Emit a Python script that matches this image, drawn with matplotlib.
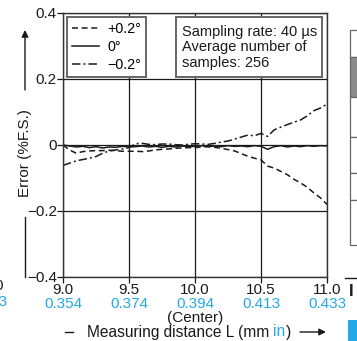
import numpy as np
import matplotlib.pyplot as plt
from matplotlib.patches import Rectangle
from matplotlib.lines import Line2D
import matplotlib.transforms as mtransforms

plt.rcParams['font.family'] = ['Liberation Sans', 'DejaVu Sans']

# measuring distance (mm)
dist = [9.00, 9.05, 9.10, 9.15, 9.20, 9.25, 9.30, 9.35, 9.40, 9.45,
        9.50, 9.55, 9.60, 9.65, 9.70, 9.75, 9.80, 9.85, 9.90, 9.95,
        10.00, 10.05, 10.10, 10.15, 10.20, 10.25, 10.30, 10.35, 10.40, 10.45,
        10.50, 10.55, 10.60, 10.65, 10.70, 10.75, 10.80, 10.85, 10.90, 10.95,
        11.00]

# error (%F.S.) per tilt angle
err_plus02 = [0.000, -0.015, -0.025, -0.020, -0.018, -0.017, -0.017, -0.016, -0.017, -0.019,
              -0.019, -0.019, -0.020, -0.018, -0.015, -0.013, -0.012, -0.010, -0.009, -0.008,
              -0.008, -0.006, -0.005, -0.007, -0.010, -0.014, -0.018, -0.026, -0.034, -0.040,
              -0.045, -0.064, -0.070, -0.080, -0.090, -0.104, -0.115, -0.128, -0.145, -0.160,
              -0.180]
err_zero = [0.000, -0.003, -0.006, -0.004, -0.008, -0.005, -0.009, -0.006, -0.007, -0.004,
            -0.006, -0.005, -0.003, -0.006, -0.004, -0.007, -0.004, -0.006, -0.003, -0.005,
            -0.004, -0.002, -0.005, -0.003, -0.005, -0.002, -0.004, -0.003, -0.005, -0.002,
            -0.004, -0.013, -0.005, -0.002, -0.006, -0.003, -0.005, -0.002, -0.004, -0.002,
            -0.003]
err_minus02 = [-0.062, -0.055, -0.048, -0.044, -0.040, -0.035, -0.025, -0.018, -0.015, -0.012,
               -0.008, 0.004, 0.005, 0.002, 0.001, 0.003, 0.003, 0.001, 0.000, 0.002,
               0.004, 0.003, 0.002, 0.005, 0.009, 0.012, 0.018, 0.024, 0.030, 0.028,
               0.035, 0.026, 0.046, 0.054, 0.062, 0.069, 0.076, 0.088, 0.104, 0.112,
               0.124]

x_ticks = [9.0, 9.5, 10.0, 10.5, 11.0]
x_labels = ['9.0', '9.5', '10.0', '10.5', '11.0']
inch_labels = ['0.354', '0.374', '0.394', '0.413', '0.433']
y_ticks = [-0.4, -0.2, 0.0, 0.2, 0.4]
y_labels = ['\u22120.4', '\u22120.2', '0', '0.2', '0.4']
series_names = ['+0.2\u00b0', '0\u00b0', '\u22120.2\u00b0']

BLUE = '#22a9e6'
INK = '#1a1a1a'
W, H = 357, 341

fig = plt.figure(figsize=(W / 100, H / 100), dpi=100)
ax = fig.add_axes([63 / W, (H - 277) / H, 264 / W, 264 / H])

l1, = ax.plot(dist, err_plus02, color=INK, lw=1.1, dashes=(3.9, 2.4))
l2, = ax.plot(dist, err_zero, color=INK, lw=1.1)
l3, = ax.plot(dist, err_minus02, color=INK, lw=1.1, dashes=(5.5, 2, 1.3, 2))

ax.set_xlim(9.0, 11.0)
ax.set_ylim(-0.4, 0.4)
ax.set_xticks(x_ticks)
ax.set_xticklabels(x_labels)
ax.set_yticks(y_ticks)
ax.set_yticklabels(y_labels)
ax.grid(True, color=INK, lw=0.9)
ax.set_axisbelow(True)
ax.tick_params(direction='out', length=4, width=0.9, color=INK,
               labelsize=11, pad=0.5, labelcolor=INK)
for s in ax.spines.values():
    s.set_color('#333333')
    s.set_linewidth(1.0)

# inch values under mm tick labels
trans = mtransforms.blended_transform_factory(ax.transData, ax.transAxes)
for xv, lab in zip(x_ticks, inch_labels):
    ax.text(xv, -0.103, lab, transform=trans, ha='center', va='center',
            color=BLUE, fontsize=11)
ax.text(10.0, -0.155, '(Center)', transform=trans, ha='center', va='center',
        color=INK, fontsize=11)

# legend
leg = ax.legend([l1, l2, l3], series_names, loc='upper left',
                bbox_to_anchor=(4 / 264, 260 / 264), borderaxespad=0,
                fontsize=10.3, handlelength=1.9, handletextpad=0.55,
                labelspacing=0.28, borderpad=0.35, fancybox=False,
                framealpha=1, edgecolor='#666666')
leg.get_frame().set_linewidth(1.4)
leg.set_zorder(5)

# condition box
box = Rectangle(((176 - 63) / 264, (277 - 77) / 264), 146 / 264, 60 / 264,
                transform=ax.transAxes, facecolor='white', edgecolor='#666666',
                lw=1.4, zorder=5)
ax.add_patch(box)
ax.text((182 - 63) / 264, (277 - 47.5) / 264,
        'Sampling rate: 40 \u00b5s\nAverage number of\nsamples: 256',
        transform=ax.transAxes, ha='left', va='center', fontsize=10.5,
        linespacing=1.17, color=INK, zorder=6)

# y label with arrow
fig.text(25 / W, (H - 153) / H, 'Error (%F.S.)', rotation=90,
         ha='center', va='center', fontsize=11, color=INK)
fig.add_artist(Line2D([25 / W, 25 / W], [(H - 217) / H, (H - 277) / H],
                      color=INK, lw=1.0))
ax.annotate('', xy=(25 / W, (H - 30) / H), xytext=(25 / W, (H - 90) / H),
            xycoords='figure fraction', textcoords='figure fraction',
            arrowprops=dict(arrowstyle='-|>', color=INK, lw=1.0,
                            mutation_scale=10, shrinkA=0, shrinkB=0))

# x label
yl = (H - 332) / H
fig.add_artist(Line2D([65 / W, 73 / W], [yl, yl], color=INK, lw=1.0))
t1 = fig.text(87 / W, yl, 'Measuring distance L (mm ', ha='left', va='center',
              fontsize=11.2, color=INK)
fig.canvas.draw()
r = fig.canvas.get_renderer()
x1 = t1.get_window_extent(r).x1
t2 = fig.text(x1 / W, yl, 'in', ha='left', va='center', fontsize=11.2, color=BLUE)
x2 = t2.get_window_extent(r).x1
fig.text(x2 / W, yl, ')', ha='left', va='center', fontsize=11.2, color=INK)
ax.annotate('', xy=(326 / W, yl), xytext=(300 / W, yl),
            xycoords='figure fraction', textcoords='figure fraction',
            arrowprops=dict(arrowstyle='-|>', color=INK, lw=1.0,
                            mutation_scale=10, shrinkA=0, shrinkB=0))

# cropped neighbours at the page edges
fig.text(4 / W, (H - 286) / H, '11.0', ha='right', va='center', fontsize=11, color=INK)
fig.text(7 / W, (H - 302) / H, '0.433', ha='right', va='center', fontsize=11, color=BLUE)

rows = [30, 57, 97, 137, 173, 200, 245]
for i in range(len(rows) - 1):
    fc = '#8c8c8c' if i == 1 else 'white'
    fig.add_artist(Rectangle((350 / W, (H - rows[i + 1]) / H), 10 / W,
                             (rows[i + 1] - rows[i]) / H, facecolor=fc,
                             edgecolor='#666666', lw=0.9))
fig.add_artist(Line2D([345 / W, 357 / W], [(H - 278) / H] * 2, color=INK, lw=1.0))
fig.text(349 / W, (H - 292) / H, 'I', ha='left', va='center', fontsize=12,
         color=INK, fontweight='bold')
fig.add_artist(Rectangle((348 / W, 0), 12 / W, 21 / H, facecolor=BLUE,
                         edgecolor='none'))

fig.savefig('out.png', dpi=100)
